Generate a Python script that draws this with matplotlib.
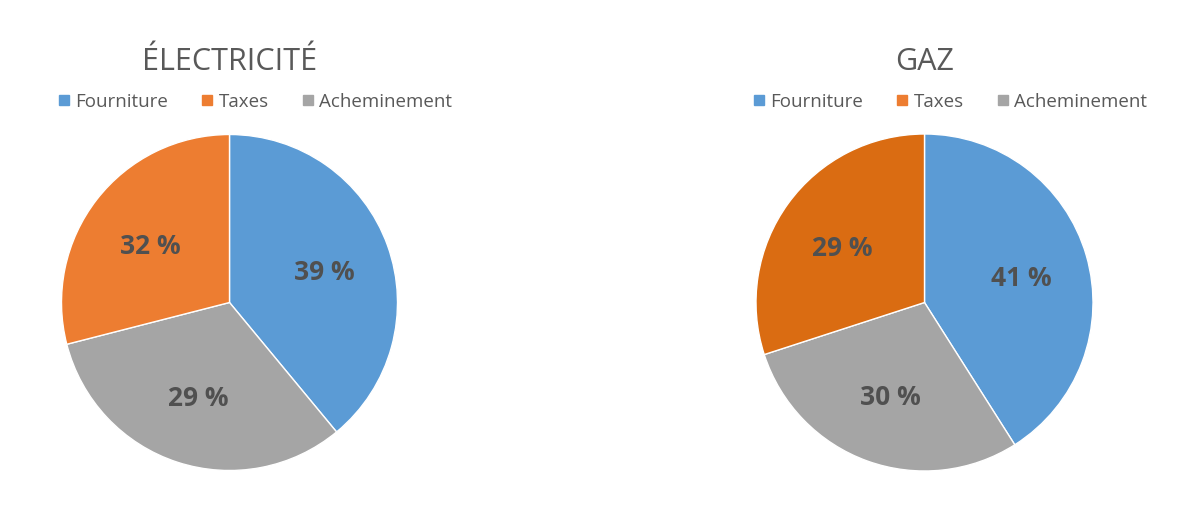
import numpy as np
import matplotlib
matplotlib.use("Agg")
import matplotlib.pyplot as plt
from matplotlib.lines import Line2D

plt.rcParams['font.family'] = ['Open Sans', 'DejaVu Sans']

categories = ["Fourniture", "Taxes", "Acheminement"]
legend_colors = ["#5B9BD5", "#ED7D31", "#A5A5A5"]

# wedges are drawn clockwise from the top: Fourniture, Acheminement, Taxes
wedge_order = ["Fourniture", "Acheminement", "Taxes"]

elec_shares = [39, 32, 29]
elec_labels = ["39 %", "29 %", "32 %"]
elec_colors = ["#5B9BD5", "#A5A5A5", "#ED7D31"]

gaz_shares = [41, 29, 30]
gaz_labels = ["41 %", "30 %", "29 %"]
gaz_colors = ["#5B9BD5", "#A5A5A5", "#DA6C12"]

W, H = 1200, 514
text_color = "#595959"

fig = plt.figure(figsize=(W / 100, H / 100), dpi=100)


def draw_pie(cx, cy, r, shares, labels, colors, title):
    ax = fig.add_axes([(cx - r) / W, (H - cy - r) / H, 2 * r / W, 2 * r / H])
    wedges, _ = ax.pie(shares, colors=colors, startangle=90, counterclock=False,
                       radius=1, wedgeprops=dict(edgecolor="white", linewidth=1))
    ax.set_xlim(-1, 1)
    ax.set_ylim(-1, 1)
    ax.set_aspect("equal")
    ax.axis("off")
    for w, lab in zip(wedges, labels):
        mid = np.deg2rad((w.theta1 + w.theta2) / 2)
        ax.text(0.6 * np.cos(mid), 0.58 * np.sin(mid) - 0.02, lab, ha="center", va="center",
                fontsize=19, fontweight="bold", color="#505050")
    fig.text(cx / W, 1 - 62 / H, title, ha="center", va="center",
             fontsize=22, color=text_color)
    handles = [Line2D([], [], marker="s", linestyle="none", markersize=7,
                      markerfacecolor=c, markeredgecolor=c) for c in legend_colors]
    fig.legend(handles, categories, loc="center", bbox_to_anchor=((cx + 24) / W, 1 - 102 / H),
               ncol=3, frameon=False, fontsize=13.5, labelcolor=text_color,
               handletextpad=0.1, columnspacing=1.6, handlelength=1.0)


draw_pie(229.5, 302.5, 168, elec_shares, elec_labels, elec_colors, "ÉLECTRICITÉ")
draw_pie(924.5, 302.5, 168.5, gaz_shares, gaz_labels, gaz_colors, "GAZ")

fig.savefig("out.png", dpi=100, facecolor="white")
